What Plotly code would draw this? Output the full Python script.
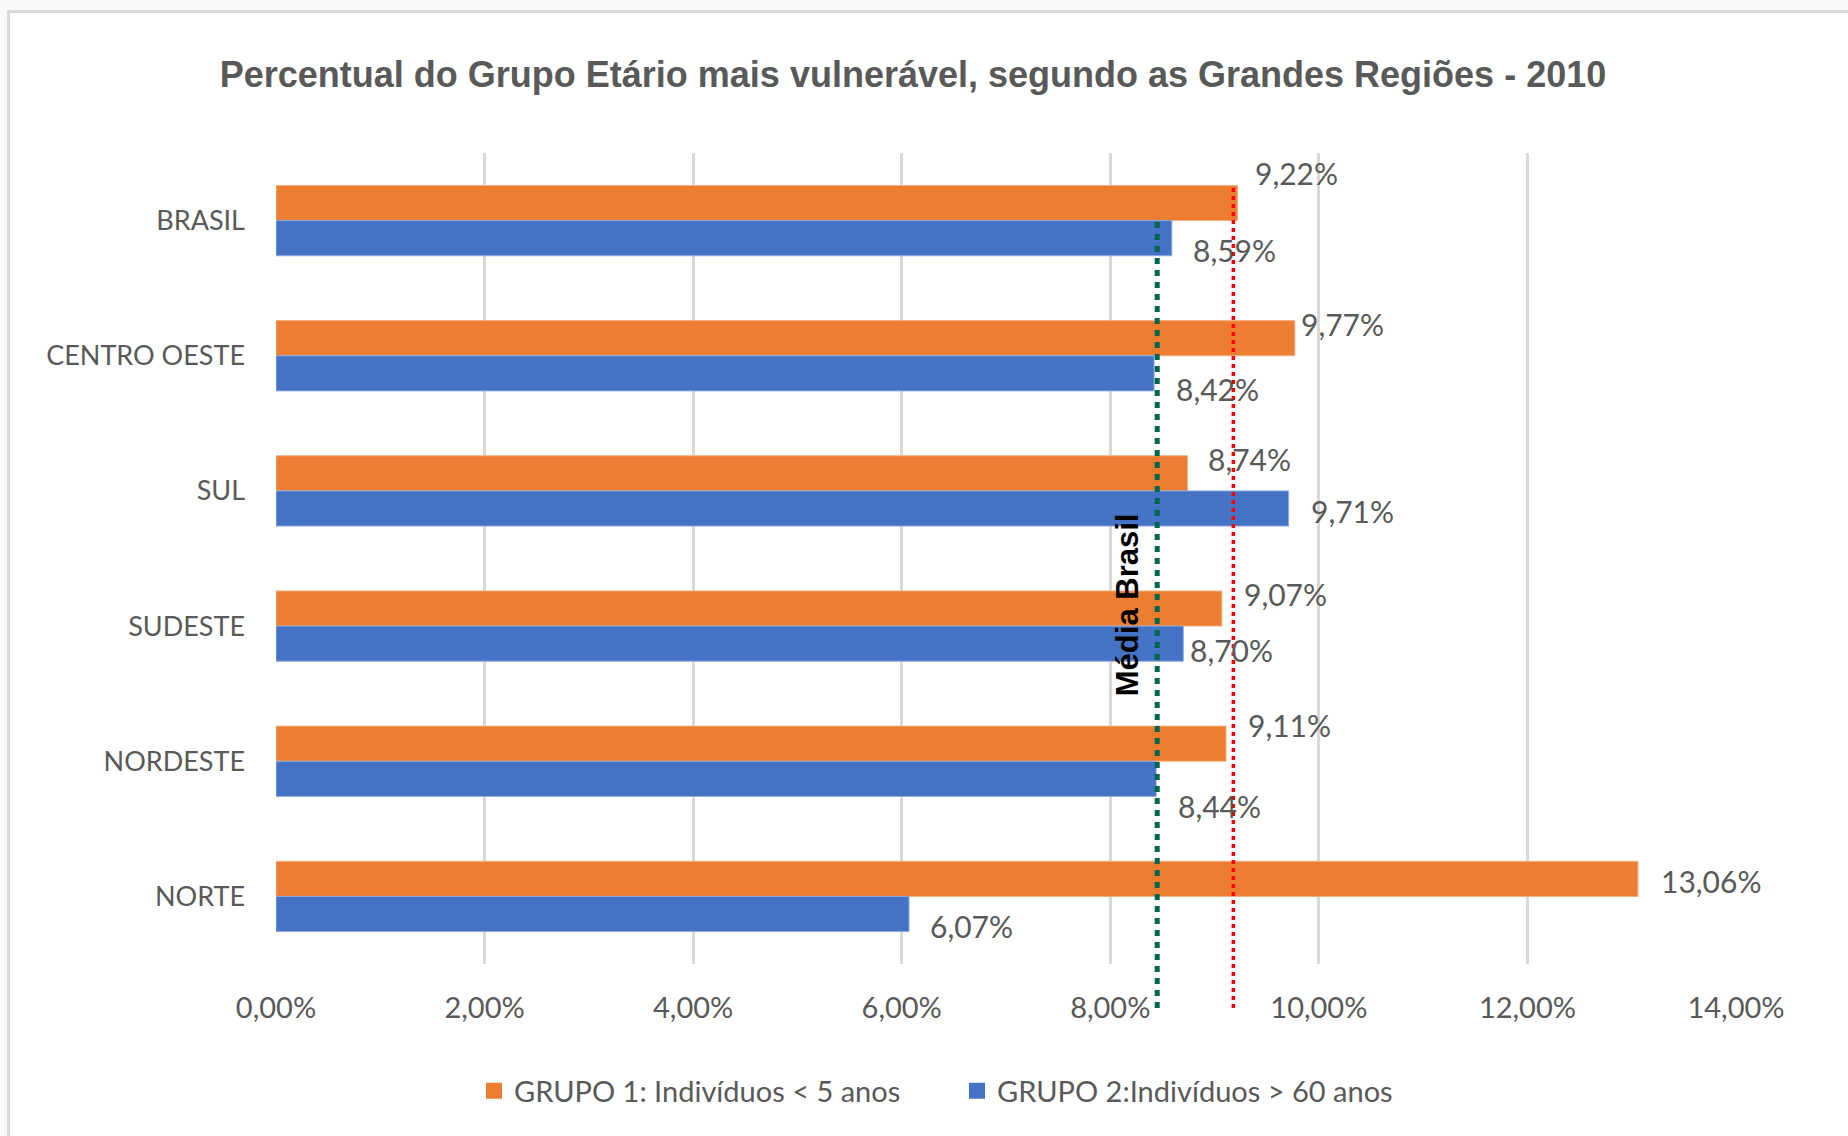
import plotly.graph_objects as go

# ---------------- data ----------------
categories = ["BRASIL", "CENTRO OESTE", "SUL", "SUDESTE", "NORDESTE", "NORTE"]
grupo1 = [9.22, 9.77, 8.74, 9.07, 9.11, 13.06]   # GRUPO 1: Indivíduos < 5 anos (%)
grupo2 = [8.59, 8.42, 9.71, 8.70, 8.44, 6.07]    # GRUPO 2: Indivíduos > 60 anos (%)
series_names = ["GRUPO 1: Indivíduos < 5 anos", "GRUPO 2:Indivíduos > 60 anos"]
x_tick_values = [0, 2, 4, 6, 8, 10, 12, 14]
x_tick_labels = ["0,00%", "2,00%", "4,00%", "6,00%", "8,00%", "10,00%", "12,00%", "14,00%"]
media_red = 9.18     # red dotted reference line
media_green = 8.45   # green dotted reference line ("Média Brasil")
title_text = "Percentual do Grupo Etário mais vulnerável, segundo as Grandes Regiões - 2010"
media_label = "Média Brasil"

# ---------------- label placement (pixels) ----------------
g1_xshift = [15, 4, 19, 20, 20, 21]
g1_yshift = [48, 32, 32, 32, 36, 15]
g2_xshift = [19, 20, 20, 5, 20, 19]
g2_yshift = [-29, -33, -20, -24, -45, -30]

ORANGE = "#ED7D31"
BLUE = "#4472C4"
GRAY_TXT = "#595959"
GRID = "#D9D9D9"
LABEL_FONT = "Lato"
W, H = 1848, 1136
ML, MR, MT, MB = 276, 112, 153, 172
PW = W - ML - MR
PH = H - MT - MB


def fmt(v):
    return f"{v:.2f}".replace(".", ",") + "%"


def px_to_paper_x(px):
    return (px - ML) / PW


def py_to_paper_y(py):
    return (H - MB - py) / PH


fig = go.Figure()
fig.add_trace(go.Bar(
    y=categories, x=grupo1, name=series_names[0], orientation="h",
    marker=dict(color=ORANGE, line=dict(color="#F4B183", width=1)),
    hoverinfo="x+y", showlegend=False,
))
fig.add_trace(go.Bar(
    y=categories, x=grupo2, name=series_names[1], orientation="h",
    marker=dict(color=BLUE, line=dict(color="#8FAADC", width=1)),
    hoverinfo="x+y", showlegend=False,
))
# legend entries (square swatches like the original)
for nm, col in zip(series_names, [ORANGE, BLUE]):
    fig.add_trace(go.Scatter(x=[None], y=[None], mode="markers", name=nm,
                             marker=dict(symbol="square", size=18, color=col),
                             hoverinfo="skip", showlegend=True))

annotations = []
for cat, v, dx, dy in zip(categories, grupo1, g1_xshift, g1_yshift):
    annotations.append(dict(x=v, y=cat, xref="x", yref="y", text=fmt(v), showarrow=False,
                            xanchor="left", yanchor="middle", xshift=dx, yshift=dy,
                            font=dict(family=LABEL_FONT, size=30, color=GRAY_TXT)))
for cat, v, dx, dy in zip(categories, grupo2, g2_xshift, g2_yshift):
    annotations.append(dict(x=v, y=cat, xref="x", yref="y", text=fmt(v), showarrow=False,
                            xanchor="left", yanchor="middle", xshift=dx, yshift=dy,
                            font=dict(family=LABEL_FONT, size=30, color=GRAY_TXT)))
annotations.append(dict(x=media_green, xref="x", y=py_to_paper_y(605), yref="paper",
                        text=media_label, textangle=-90, showarrow=False,
                        xanchor="center", yanchor="middle", xshift=-30,
                        font=dict(family="Liberation Sans", size=31, color="black", weight="bold")))

shapes = [
    # chart frame (light gray page behind, white chart box with border)
    dict(type="rect", xref="paper", yref="paper",
         x0=px_to_paper_x(8.5), x1=px_to_paper_x(1880),
         y0=py_to_paper_y(11.5), y1=py_to_paper_y(1160),
         fillcolor="white", line=dict(color=GRID, width=3), layer="below"),
    # reference lines
    dict(type="line", xref="x", yref="paper", x0=media_red, x1=media_red,
         y0=py_to_paper_y(188), y1=py_to_paper_y(1008),
         line=dict(color="#FF0000", width=3.5, dash="4px,4px"), layer="above"),
    dict(type="line", xref="x", yref="paper", x0=media_green, x1=media_green,
         y0=py_to_paper_y(222), y1=py_to_paper_y(1008),
         line=dict(color="#00664F", width=5, dash="6px,6px"), layer="above"),
]

fig.update_layout(
    width=W, height=H,
    margin=dict(l=ML, r=MR, t=MT, b=MB, pad=0),
    paper_bgcolor="#F8F8F8",
    plot_bgcolor="rgba(0,0,0,0)",
    barmode="group", bargap=0.48, bargroupgap=0,
    title=dict(text=title_text, x=913 / W, xref="container", xanchor="center",
               y=1 - 74 / H, yref="container", yanchor="middle",
               font=dict(family="Liberation Sans", size=36, color=GRAY_TXT, weight="bold")),
    xaxis=dict(range=[0, 14], tickvals=x_tick_values, ticktext=x_tick_labels,
               showgrid=True, gridcolor=GRID, gridwidth=2.5, zeroline=False,
               showline=False, ticks="", ticklabelstandoff=24,
               tickfont=dict(family=LABEL_FONT, size=29, color=GRAY_TXT), fixedrange=True),
    yaxis=dict(categoryorder="array", categoryarray=categories, autorange="reversed",
               showgrid=False, zeroline=False, showline=False, ticks="",
               ticklabelstandoff=30,
               tickfont=dict(family=LABEL_FONT, size=27, color=GRAY_TXT), fixedrange=True),
    legend=dict(orientation="h", x=px_to_paper_x(474), xanchor="left",
                y=py_to_paper_y(1091), yanchor="middle",
                entrywidth=438, entrywidthmode="pixels", itemsizing="trace",
                font=dict(family=LABEL_FONT, size=29, color=GRAY_TXT),
                bgcolor="rgba(0,0,0,0)", traceorder="normal"),
    annotations=annotations,
    shapes=shapes,
    showlegend=True,
)

fig.write_html("out.html", config={"displayModeBar": False},
               post_script="document.body.style.margin='0px';document.body.style.background='#F8F8F8';")
